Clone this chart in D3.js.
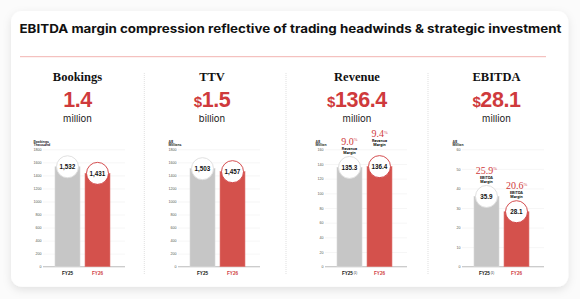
<!DOCTYPE html>
<html>
<head>
<meta charset="utf-8">
<script src="https://cdn.jsdelivr.net/npm/d3@7"></script>
<style>
  body { margin: 0; background: #fff; }
  svg { display: block; }
</style>
</head>
<body>
<svg id="chart"></svg>
<script>
// ---- data ----
var chartTitle = 'EBITDA margin compression reflective of trading headwinds & strategic investment'
var periods = ['FY25', 'FY26']
var panelTitles = ['Bookings', 'TTV', 'Revenue', 'EBITDA']
var headlinePrefix = ['', '$', '$', '$']
var headlineValues = ['1.4', '1.5', '136.4', '28.1']
var headlineUnits = ['million', 'billion', 'million', 'million']
var axisTitles = [['Bookings', 'Thousand'], ['A$', 'Millions'], ['A$', 'Million'], ['A$', 'Million']]
var axisMax = [1800, 1800, 160, 60]
var axisStep = [200, 200, 20, 10]
var bookings = [1532, 1431]
var ttv = [1503, 1457]
var revenue = [135.3, 136.4]
var ebitda = [35.9, 28.1]
var revenueMargin = [9.0, 9.4]
var ebitdaMargin = [25.9, 20.6]
var footnoteOnFY25 = [false, false, true, true]

var series = [bookings, ttv, revenue, ebitda]
var margins = [null, null, revenueMargin, ebitdaMargin]
var marginNames = [null, null, 'Revenue', 'EBITDA']
var valueFormat = [d3.format(','), d3.format(','), d3.format('.1f'), d3.format('.1f')]

// ---- layout ----
var width = 580
var height = 299
var red = '#cf3a3c'
var barRed = '#d4514c'
var barGrey = '#c6c6c6'

// per panel: centre of heading, left edge of the grid
var panelCenter = [77.5, 212, 357, 496.5]
var gridLeft = [43, 178, 325, 462]
var gridWidth = 82
var dividers = [144.3, 286, 428]
// FY26 revenue margin label sits a little higher on the slide
var marginLift = [[0, 0], [0, 0], [0, 7], [0, 0]]

var svg = d3.select('#chart').attr('width', width).attr('height', height)
    .style('font-family', 'Inter, "Liberation Sans", sans-serif')

var defs = svg.append('defs')
var shadow = defs.append('filter').attr('id', 'cardShadow')
    .attr('x', '-10%').attr('y', '-10%').attr('width', '120%').attr('height', '130%')
shadow.append('feDropShadow').attr('dx', 0).attr('dy', 3).attr('stdDeviation', 4)
    .attr('flood-color', '#000').attr('flood-opacity', 0.1)

svg.append('rect').attr('width', width).attr('height', height).attr('fill', '#fbfbfb')
svg.append('rect')
    .attr('x', 11).attr('y', 11).attr('width', 557.3).attr('height', 275.7)
    .attr('rx', 11).attr('fill', '#fff').attr('filter', 'url(#cardShadow)')

svg.append('text')
    .attr('x', 19.5).attr('y', 33.3)
    .attr('font-size', 12).attr('font-weight', 700).attr('fill', '#111')
    .attr('textLength', 542).attr('lengthAdjust', 'spacingAndGlyphs')
    .text(chartTitle)

svg.append('line')
    .attr('x1', 20).attr('x2', 546).attr('y1', 56.7).attr('y2', 56.7)
    .attr('stroke', '#f2b3b1').attr('stroke-width', 1)

svg.selectAll('.divider').data(dividers).join('line')
    .attr('class', 'divider')
    .attr('x1', d => d).attr('x2', d => d).attr('y1', 73).attr('y2', 274)
    .attr('stroke', '#c9c9c9').attr('stroke-width', 0.6).attr('stroke-dasharray', '1,1')

var yTop = 149.3
var yBottom = 266.7

panelTitles.forEach(function (title, p) {
    var g = svg.append('g')
    var cx = panelCenter[p]

    //标题和大数字
    g.append('text').attr('x', cx).attr('y', 81)
        .attr('text-anchor', 'middle').attr('font-family', '"Liberation Serif", serif')
        .attr('font-weight', 700).attr('font-size', 12.5).attr('fill', '#111')
        .text(title)

    var head = g.append('text').attr('x', cx).attr('y', 106.5)
        .attr('text-anchor', 'middle').attr('font-family', '"Liberation Sans", sans-serif')
        .attr('font-weight', 700).attr('fill', red).attr('letter-spacing', -0.4)
    if (headlinePrefix[p]) head.append('tspan').attr('font-size', 15).text(headlinePrefix[p])
    head.append('tspan').attr('font-size', 21.5).text(headlineValues[p])

    g.append('text').attr('x', cx).attr('y', 121.5)
        .attr('text-anchor', 'middle').attr('font-size', 9.5).attr('fill', '#222')
        .text(headlineUnits[p])

    // scales
    var x0 = gridLeft[p]
    var x = d3.scaleBand().domain(periods).range([x0 + 12, x0 + 67]).paddingInner(0.167)
    var y = d3.scaleLinear().domain([0, axisMax[p]]).range([yBottom, yTop])
    var tickVals = d3.range(0, axisMax[p] + axisStep[p] / 2, axisStep[p])

    // grid + y axis
    g.append('g').attr('transform', `translate(${x0},0)`)
        .call(d3.axisLeft(y).tickValues(tickVals).tickSize(-gridWidth).tickPadding(1.5).tickFormat(d3.format('d')))
        .call(a => a.select('.domain').remove())
        .call(a => a.selectAll('.tick line').attr('stroke', '#ededed').attr('stroke-width', 0.5))
        .call(a => a.selectAll('.tick text').attr('font-size', 3.6).attr('fill', '#555')
            .attr('font-family', '"Liberation Sans", sans-serif'))

    g.append('text').attr('x', x0 - 9.5).attr('y', 143)
        .attr('font-size', 3.4).attr('font-weight', 700).attr('fill', '#333')
        .selectAll('tspan').data(axisTitles[p]).join('tspan')
        .attr('x', x0 - 9.5).attr('dy', (d, i) => i ? 3.4 : 0).text(d => d)

    // x axis
    g.append('line').attr('x1', x0).attr('x2', x0 + gridWidth)
        .attr('y1', y(0)).attr('y2', y(0)).attr('stroke', '#9a9a9a').attr('stroke-width', 0.6)

    var xl = g.append('g').attr('transform', `translate(0,${y(0)})`)
        .call(d3.axisBottom(x).tickSize(0).tickPadding(5.5))
    xl.select('.domain').remove()
    xl.selectAll('.tick text')
        .attr('font-size', 4.6).attr('font-weight', 700)
        .attr('font-family', '"Liberation Sans", sans-serif')
        .attr('fill', (d, i) => i ? red : '#111')
    if (footnoteOnFY25[p]) {
        xl.selectAll('.tick text').filter((d, i) => i === 0)
            .append('tspan').attr('font-size', 2.8).attr('font-weight', 400).attr('dy', -1.6).text(' (1)')
    }

    // bars
    var data = series[p].map((v, i) => ({ period: periods[i], value: v, i: i }))
    g.selectAll('.bar').data(data).join('rect')
        .attr('class', 'bar')
        .attr('x', d => x(d.period)).attr('width', x.bandwidth())
        .attr('y', d => y(d.value)).attr('height', d => y(0) - y(d.value))
        .attr('fill', d => d.i ? barRed : barGrey)
        .attr('stroke', d => d.i ? '#e07d78' : '#d6d6d6').attr('stroke-width', 0.6)

    g.selectAll('.bubble').data(data).join('circle')
        .attr('class', 'bubble')
        .attr('cx', d => x(d.period) + x.bandwidth() / 2).attr('cy', d => y(d.value))
        .attr('r', 11)
        .attr('fill', '#fff')
        .attr('stroke', d => d.i ? red : '#dcdcdc').attr('stroke-width', 0.9)

    g.selectAll('.val').data(data).join('text')
        .attr('class', 'val')
        .attr('x', d => x(d.period) + x.bandwidth() / 2).attr('y', d => y(d.value) + 2.2)
        .attr('text-anchor', 'middle').attr('font-size', 6.3).attr('font-weight', 700)
        .attr('font-family', '"Liberation Sans", sans-serif').attr('fill', '#111')
        .text(d => valueFormat[p](d.value))

    // margin labels above the bubbles
    if (margins[p]) {
        data.forEach(function (d) {
            var mx = x(d.period) + x.bandwidth() / 2
            var base = y(d.value) - marginLift[p][d.i]
            var pct = g.append('text').attr('x', mx).attr('y', base - 22.5)
                .attr('text-anchor', 'middle').attr('font-family', '"Liberation Serif", serif')
                .attr('font-size', 10).attr('fill', red)
            pct.append('tspan').text(d3.format('.1f')(margins[p][d.i]))
            pct.append('tspan').attr('font-size', 4.5).attr('dy', -3.5).text('%')
            g.append('text').attr('x', mx).attr('y', base - 17.5)
                .attr('text-anchor', 'middle').attr('font-size', 3.6).attr('font-weight', 700).attr('fill', '#111')
                .text(marginNames[p])
            g.append('text').attr('x', mx).attr('y', base - 13.8)
                .attr('text-anchor', 'middle').attr('font-size', 3.6).attr('font-weight', 700).attr('fill', '#111')
                .text('Margin')
        })
    }
})
</script>
</body>
</html>
